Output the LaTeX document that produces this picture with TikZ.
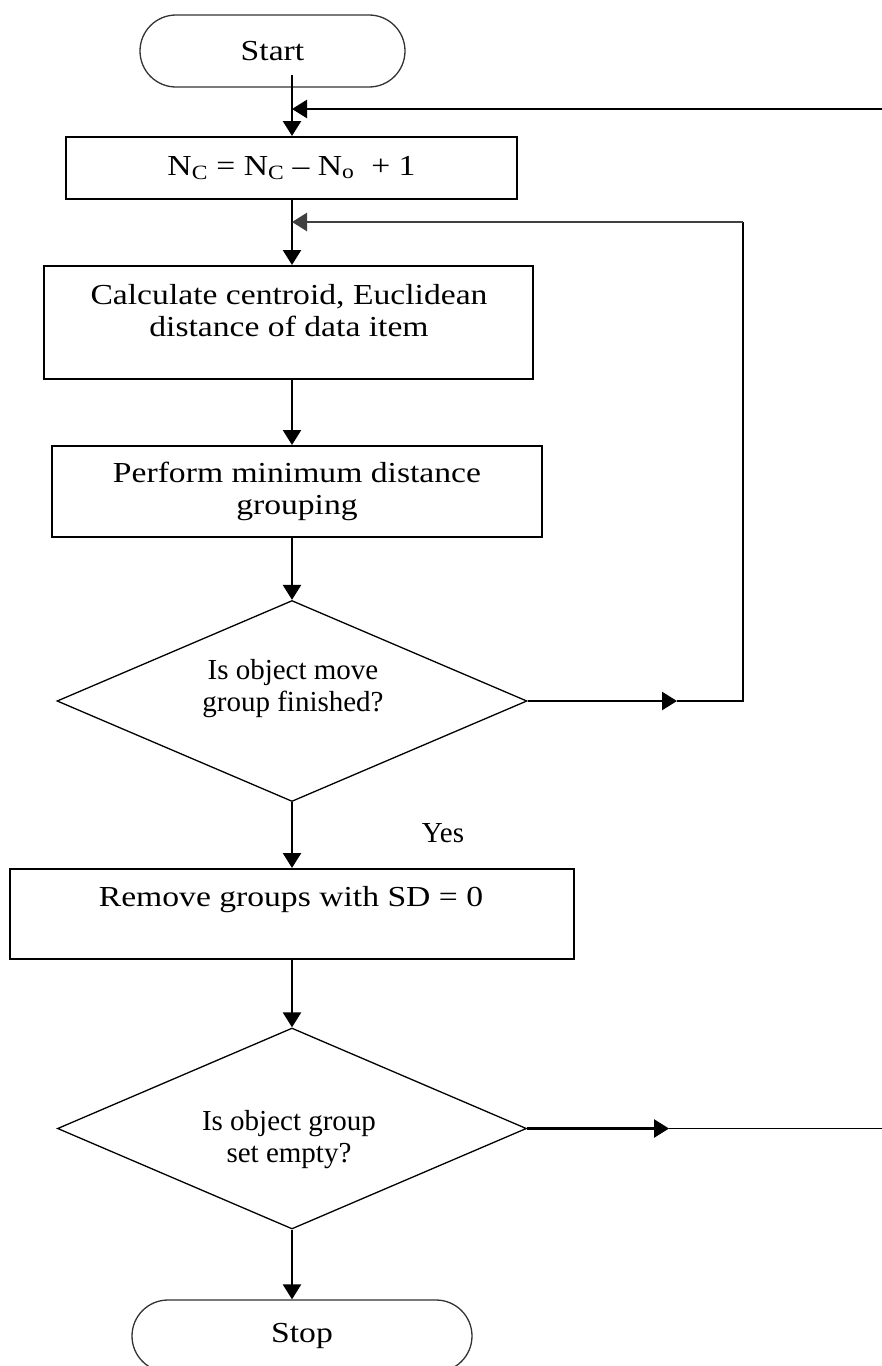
\documentclass[tikz,border=0pt]{standalone}
\usepackage{fontspec}
\setmainfont{Liberation Serif}
\newfontfamily\boxfont{Liberation Serif}[FakeStretch=1.16]
\usetikzlibrary{arrows.meta,shapes.geometric}
\begin{document}
\begin{tikzpicture}[x=1pt,y=-1pt,
  font=\fontsize{29}{32}\selectfont,
  box/.style={draw, line width=2pt, inner sep=0pt, align=center, font=\fontsize{29}{32}\boxfont},
  pill/.style={draw=black!80, line width=1.3pt, rounded corners=36pt, inner sep=0pt, font=\fontsize{29}{32}\boxfont},
  dia/.style={draw, diamond, line width=1.3pt, inner sep=0pt, aspect=2.34},
  txt/.style={align=center, inner sep=0pt},
  btxt/.style={align=center, inner sep=0pt, font=\fontsize{29}{32}\boxfont},
  arr/.style={line width=2.5pt, -{Triangle[length=15pt,width=18pt]}},
  fb/.style={line width=1.5pt}]
\useasboundingbox (0,0) rectangle (882,1366);
\clip (0,0) rectangle (882,1366);

% nodes
\node[pill, minimum width=265pt, minimum height=72pt] (start) at (272.5,51) {Start};
\node[box, minimum width=451pt, minimum height=62pt] (nc) at (291.5,168)
  {N\textsubscript{C} = N\textsubscript{C} – N\textsubscript{o}\ \ + 1};
\node[box, minimum width=489pt, minimum height=113pt] (calc) at (288.5,322.5) {};
\node[btxt] (calct) at (289,311) {Calculate centroid, Euclidean\\distance of data item};
\node[box, minimum width=490pt, minimum height=91pt] (perf) at (297,491.5)
  {Perform minimum distance\\grouping};
\node[dia, minimum width=470pt, minimum height=201pt] (d1) at (292,701) {};
\node[txt] (d1t) at (293,689) {Is object move\\group finished?};
\node[txt] (yes) at (443,833) {Yes};
\node[box, minimum width=564pt, minimum height=90pt] (rem) at (292,914) {};
\node[btxt] (remt) at (291,900) {Remove groups with SD = 0};
\node[dia, minimum width=469pt, minimum height=201pt] (d2) at (292,1128.5) {};
\node[txt] (d2t) at (289,1140) {Is object group\\set empty?};
\node[pill, minimum width=340pt, minimum height=72pt] (stop) at (302,1336) {Stop};

% coordinates
\coordinate (sa) at (292,75);
\coordinate (r1) at (882,109);
\coordinate (j1) at (292,109);
\coordinate (j2) at (292,222);
\coordinate (m1) at (677,701);
\coordinate (c1) at (743,701);
\coordinate (m2) at (669,1128.5);
\coordinate (r2) at (882,1128.5);

% connectors
\draw[arr] (sa) -- (sa |- nc.north);
\draw[arr] (r1) -- (j1);
\draw[arr] (nc.south -| sa) -- (calc.north -| sa);
\draw[arr] (calc.south -| sa) -- (perf.north -| sa);
\draw[arr] (perf.south -| sa) -- (d1.north);
\draw[arr] (d1.east) -- (m1);
\draw[fb] (m1) -- (c1) -- (c1 |- j2);
\draw[arr, draw=black!75, fill=black] (c1 |- j2) -- (j2);
\draw[arr] (d1.south) -- (rem.north -| d1.south);
\draw[arr] (rem.south -| d2.north) -- (d2.north);
\draw[arr] (d2.east) -- (m2);
\draw[fb] (m2) -- (r2);
\draw[arr] (d2.south) -- (d2.south |- stop.north);
\end{tikzpicture}
\end{document}
